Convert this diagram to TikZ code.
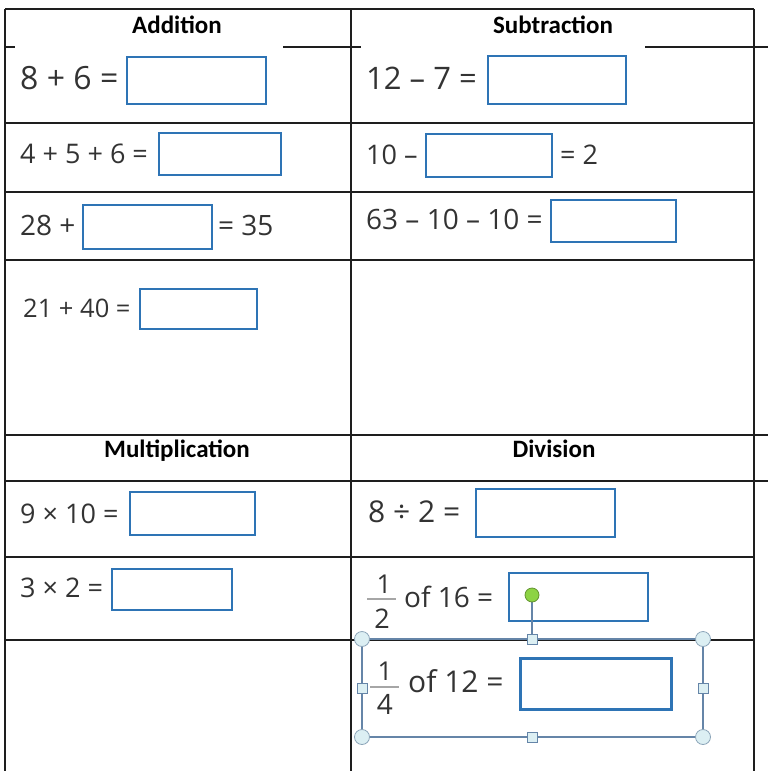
\documentclass[tikz,border=0pt]{standalone}
\usepackage{fontspec}
\setmainfont{Open Sans}
\newfontfamily\headfont{Carlito}
\usepackage{tikz}

\definecolor{gridline}{RGB}{30,30,30}
\definecolor{boxblue}{RGB}{46,116,181}
\definecolor{sumgray}{RGB}{51,51,51}
\definecolor{selline}{RGB}{101,133,168}
\definecolor{handlefill}{RGB}{220,239,243}
\definecolor{handledraw}{RGB}{140,165,185}
\definecolor{rotgreen}{RGB}{141,211,68}
\newcommand\fsz[1]{\fontsize{#1}{#1}\selectfont}

\begin{document}
\begin{tikzpicture}[x=1pt, y=-1pt,
    grid/.style={line width=1.6pt, draw=gridline},
    head/.style={anchor=base, inner sep=0pt, font=\headfont\bfseries\fsz{25}},
    sum/.style={anchor=base west, inner sep=0pt, text=sumgray},
    answer/.style={draw=boxblue, line width=2.4pt, inner sep=0pt},
    fracbar/.style={draw=gray!70, line width=1.4pt},
    corner/.style={circle, draw=handledraw, fill=handlefill, line width=0.8pt,
      minimum size=15pt, inner sep=0pt},
    side/.style={rectangle, draw=selline, fill=handlefill, line width=0.8pt,
      minimum size=10pt, inner sep=0pt}]
  \useasboundingbox (0,0) rectangle (768,771);

  % table
  \draw[grid] (5,9) -- (754,9);
  \draw[grid] (5,47) -- (15,47);
  \draw[grid] (283,47) -- (361,47);
  \draw[grid] (645,47) -- (768,47);
  \foreach \y in {123,192,260,557,640}
    \draw[grid] (5,\y) -- (754,\y);
  \foreach \y in {435,481}
    \draw[grid] (5,\y) -- (768,\y);
  \foreach \x in {5,351,754}
    \draw[grid] (\x,9) -- (\x,771);

  % headings
  \node[head] (addhead) at (177,33) {Addition};
  \node[head] (subhead) at (553,33) {Subtraction};
  \node[head] (mulhead) at (177,457) {Multiplication};
  \node[head] (divhead) at (554,457) {Division};

  % addition
  \node[sum, font=\fsz{32}] (add1) at (20,89) {8 + 6 =};
  \node[answer, minimum width=139, minimum height=47] (add1box) at (196.5,80.5) {};
  \node[sum, font=\fsz{27}] (add2) at (20,163) {4 + 5 + 6 =};
  \node[answer, minimum width=122, minimum height=42] (add2box) at (220,154) {};
  \node[sum, font=\fsz{28}] (add3) at (20,235) {28 +};
  \node[answer, minimum width=129, minimum height=44] (add3box) at (147.5,227) {};
  \node[sum, font=\fsz{28}] (add3r) at (218,235) {= 35};
  \node[sum, font=\fsz{25.5}] (add4) at (23,317) {21 + 40 =};
  \node[answer, minimum width=117, minimum height=40] (add4box) at (198.5,309) {};

  % subtraction
  \node[sum, font=\fsz{31}] (sub1) at (366,89) {12 – 7 =};
  \node[answer, minimum width=138, minimum height=48] (sub1box) at (557,80) {};
  \node[sum, font=\fsz{27}] (sub2) at (366,164) {10 –};
  \node[answer, minimum width=126, minimum height=43] (sub2box) at (489,155.5) {};
  \node[sum, font=\fsz{27}] (sub2r) at (560,164) {= 2};
  \node[sum, font=\fsz{28}] (sub3) at (366,229) {63 – 10 – 10 =};
  \node[answer, minimum width=125, minimum height=42] (sub3box) at (613.5,221) {};

  % multiplication
  \node[sum, font=\fsz{27}] (mul1) at (20,523) {9 × 10 =};
  \node[answer, minimum width=125, minimum height=43] (mul1box) at (192.5,513.5) {};
  \node[sum, font=\fsz{27}] (mul2) at (20,597) {3 × 2 =};
  \node[answer, minimum width=120, minimum height=41] (mul2box) at (172,589.5) {};

  % division
  \node[sum, font=\fsz{30}] (div1) at (368,522) {8 ÷ 2 =};
  \node[answer, minimum width=139, minimum height=48] (div1box) at (545.5,513) {};
  \node[anchor=base, inner sep=0pt, text=sumgray, font=\fsz{26}] (half1) at (384,593) {1};
  \node[anchor=base, inner sep=0pt, text=sumgray, font=\fsz{27}] (half2) at (382,628) {2};
  \draw[fracbar] (367,599) -- (396,599);
  \node[sum, font=\fsz{28}] (div2) at (404,607) {of 16 =};
  \node[answer, minimum width=139, minimum height=48] (div2box) at (578.5,597) {};
  \node[anchor=base, inner sep=0pt, text=sumgray, font=\fsz{26}] (quart1) at (385,680) {1};
  \node[anchor=base, inner sep=0pt, text=sumgray, font=\fsz{28}] (quart4) at (385,714) {4};
  \draw[fracbar] (370,687) -- (399,687);
  \node[sum, font=\fsz{30}] (div3) at (408,692) {of 12 =};
  \node[answer, line width=3pt, minimum width=151, minimum height=51] (div3box) at (596,684) {};

  % selection frame
  \coordinate (selnw) at (362,639);
  \coordinate (selne) at (703,639);
  \coordinate (selsw) at (362,737);
  \coordinate (selse) at (703,737);
  \coordinate (seln) at (532,639);
  \coordinate (sels) at (532,737);
  \coordinate (selw) at (362,688);
  \coordinate (sele) at (703,688);
  \coordinate (selrot) at (532,595);
  \draw[selline, line width=1.2pt] (selnw) rectangle (selse);
  \draw[selline, line width=1.2pt] (seln) -- (selrot);
  \foreach \c in {selnw,selne,selsw,selse}
    \node[corner] at (\c) {};
  \foreach \c in {seln,sels,selw,sele}
    \node[side] at (\c) {};
  \node[circle, draw=rotgreen!70!black, fill=rotgreen, line width=0.8pt,
    minimum size=14pt, inner sep=0pt] (rot) at (selrot) {};
\end{tikzpicture}
\end{document}
